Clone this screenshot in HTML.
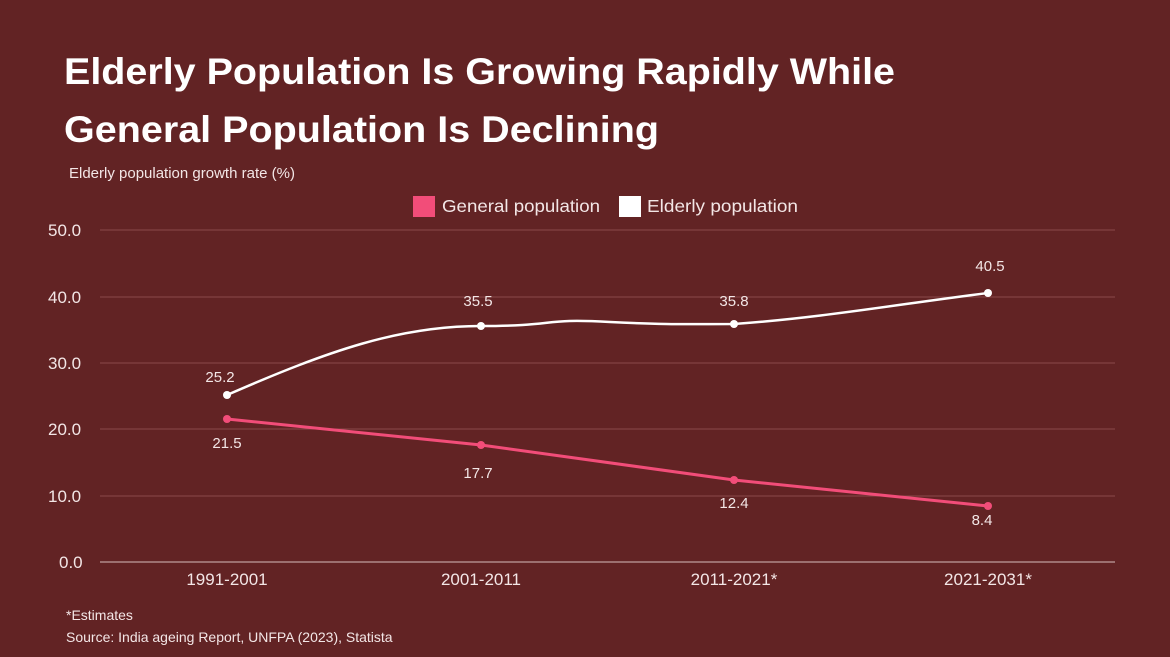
<!DOCTYPE html>
<html><head><meta charset="utf-8"><style>
html,body{margin:0;padding:0;background:#622324;}
svg{display:block;font-family:"Liberation Sans",sans-serif;}
</style></head><body>
<svg width="1170" height="657" viewBox="0 0 1170 657">
<rect width="1170" height="657" fill="#622324"/>
<text x="64" y="84" font-size="37" font-weight="bold" fill="#fff" textLength="831" lengthAdjust="spacingAndGlyphs">Elderly Population Is Growing Rapidly While</text>
<text x="64" y="142" font-size="37" font-weight="bold" fill="#fff" textLength="595" lengthAdjust="spacingAndGlyphs">General Population Is Declining</text>
<text x="69" y="178" font-size="15" fill="#f3e6e6">Elderly population growth rate (%)</text>
<rect x="413" y="196" width="22" height="21" fill="#f24d79"/>
<text x="442" y="212" font-size="17.5" fill="#f3e6e6" textLength="158" lengthAdjust="spacingAndGlyphs">General population</text>
<rect x="619" y="196" width="22" height="21" fill="#fff"/>
<text x="647" y="212" font-size="17.5" fill="#f3e6e6" textLength="151" lengthAdjust="spacingAndGlyphs">Elderly population</text>
<g stroke="#8a4a4a" stroke-width="1">
<line x1="100" x2="1115" y1="230" y2="230"/>
<line x1="100" x2="1115" y1="297" y2="297"/>
<line x1="100" x2="1115" y1="363" y2="363"/>
<line x1="100" x2="1115" y1="429" y2="429"/>
<line x1="100" x2="1115" y1="496" y2="496"/>
</g>
<line x1="100" x2="1115" y1="562" y2="562" stroke="#b08a8a" stroke-width="1.5"/>
<g font-size="17" fill="#f3e6e6">
<text x="48" y="236">50.0</text>
<text x="48" y="303">40.0</text>
<text x="48" y="369">30.0</text>
<text x="48" y="435">20.0</text>
<text x="48" y="502">10.0</text>
<text x="59" y="568">0.0</text>
</g>
<g font-size="17" fill="#f3e6e6" text-anchor="middle">
<text x="227" y="585">1991-2001</text>
<text x="481" y="585">2001-2011</text>
<text x="734" y="585">2011-2021*</text>
<text x="988" y="585">2021-2031*</text>
</g>
<path d="M227,395 C330,350 400,326 481,326 C560,326 540,318 610,322 C670,325 690,324 734,324 C820,318 900,304 988,293" fill="none" stroke="#fff" stroke-width="2.5"/>
<path d="M227,419 L481,445 L734,480 L988,506" fill="none" stroke="#f24d79" stroke-width="3"/>
<g fill="#fff"><circle cx="227" cy="395" r="4"/><circle cx="481" cy="326" r="4"/><circle cx="734" cy="324" r="4"/><circle cx="988" cy="293" r="4"/></g>
<g fill="#f24d79"><circle cx="227" cy="419" r="4"/><circle cx="481" cy="445" r="4"/><circle cx="734" cy="480" r="4"/><circle cx="988" cy="506" r="4"/></g>
<g font-size="15" fill="#f3e6e6" text-anchor="middle">
<text x="220" y="382">25.2</text>
<text x="478" y="306">35.5</text>
<text x="734" y="306">35.8</text>
<text x="990" y="271">40.5</text>
<text x="227" y="448">21.5</text>
<text x="478" y="478">17.7</text>
<text x="734" y="508">12.4</text>
<text x="982" y="525">8.4</text>
</g>
<text x="66" y="620" font-size="14" fill="#f3e6e6">*Estimates</text>
<text x="66" y="642" font-size="14" fill="#f3e6e6">Source: India ageing Report, UNFPA (2023), Statista</text>
</svg>
</body></html>
